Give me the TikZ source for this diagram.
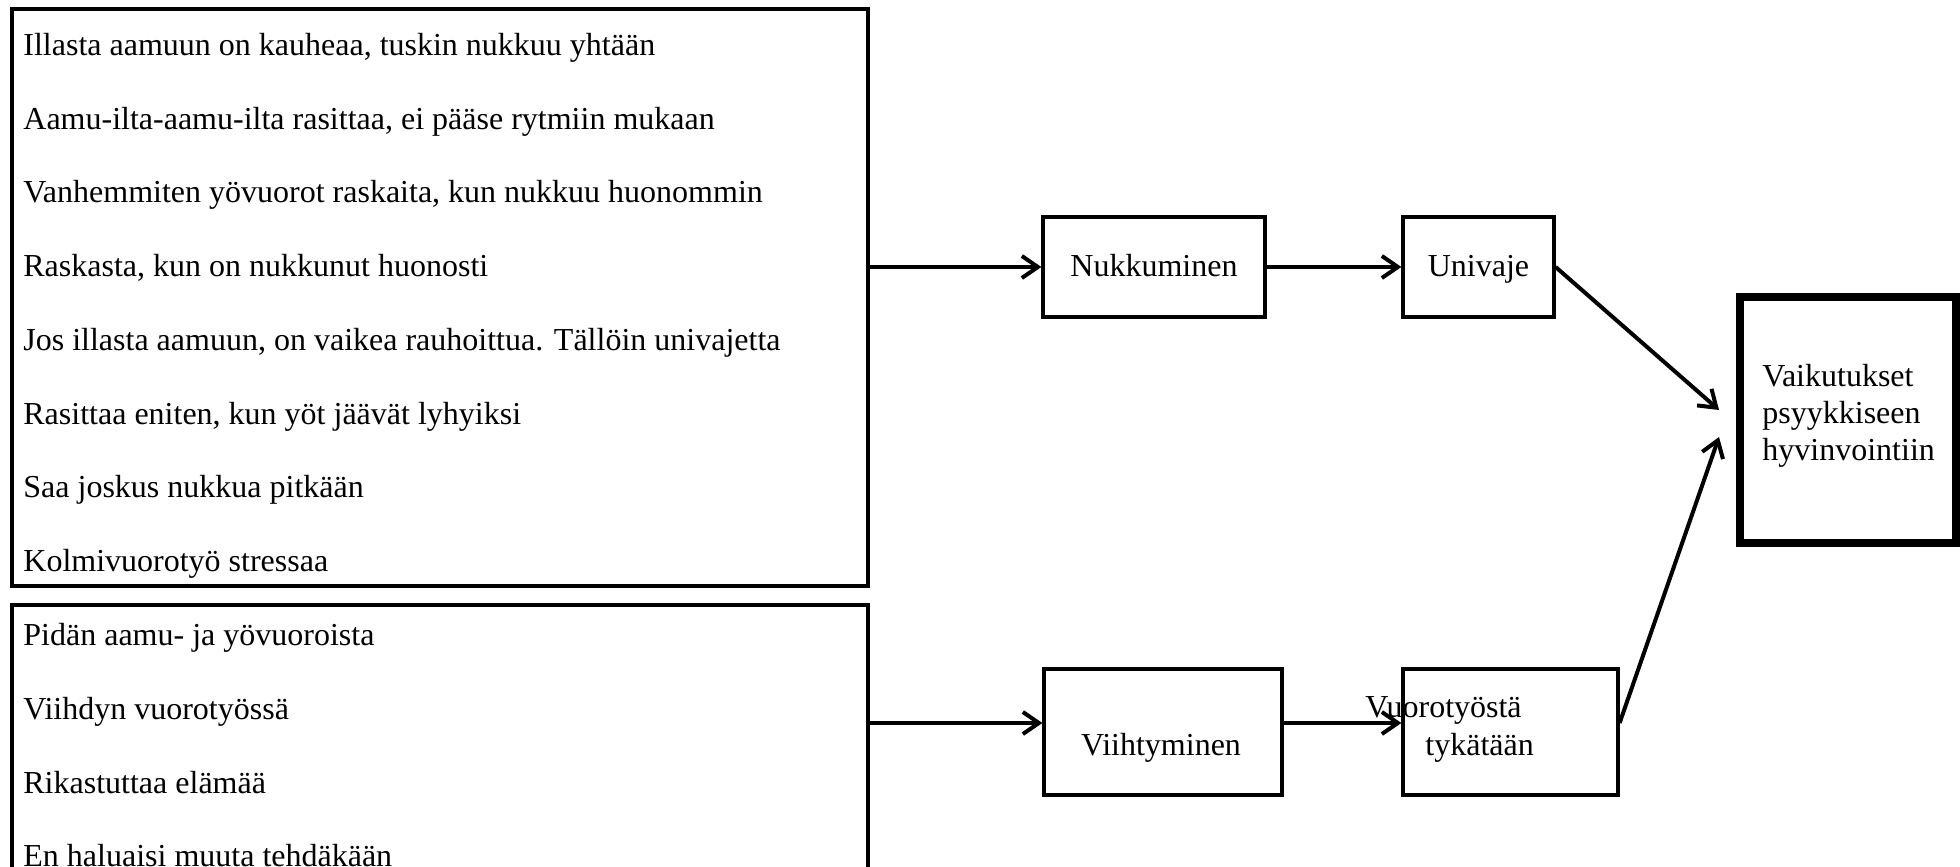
\documentclass[tikz,border=0pt]{standalone}
\usepackage{fontspec}
\setmainfont{Liberation Serif}
\usetikzlibrary{arrows.meta}
\begin{document}
\begin{tikzpicture}[x=0.5pt,y=-0.5pt,
  box/.style={draw,line width=1.6pt,rectangle,inner sep=0pt},
  txt/.style={inner sep=0pt,anchor=base west,align=left,font=\fontsize{16}{18.5}\selectfont},
  ctxt/.style={font=\fontsize{16}{19}\selectfont,text height=11pt,text depth=2pt},
  conn/.style={line width=2pt,-{Straight Barb[length=8pt,width=11pt]}}]
\useasboundingbox (0,0) rectangle (1960,867);
\clip (0,0) rectangle (1960,867);
% left boxes
\node[box,minimum width=428pt,minimum height=288.5pt] (top) at (440,297.5) {};
\node[box,minimum width=428pt,minimum height=197.5pt] (bot) at (440,802.5) {};
\node[txt] (t1) at (23,55) {Illasta aamuun on kauheaa, tuskin nukkuu yhtään};
\node[txt] (t2) at (23,129) {Aamu-ilta-aamu-ilta rasittaa, ei pääse rytmiin mukaan};
\node[txt] (t3) at (23,202) {Vanhemmiten yövuorot raskaita, kun nukkuu huonommin};
\node[txt] (t4) at (23,276) {Raskasta, kun on nukkunut huonosti};
\node[txt] (t5) at (23,350) {Jos illasta aamuun, on vaikea rauhoittua. Tällöin univajetta};
\node[txt] (t6) at (23,424) {Rasittaa eniten, kun yöt jäävät lyhyiksi};
\node[txt] (t7) at (23,497) {Saa joskus nukkua pitkään};
\node[txt] (t8) at (23,571) {Kolmivuorotyö stressaa};
\node[txt] (b1) at (23,645) {Pidän aamu- ja yövuoroista};
\node[txt] (b2) at (23,719) {Viihdyn vuorotyössä};
\node[txt] (b3) at (23,793) {Rikastuttaa elämää};
\node[txt] (b4) at (23,866) {En haluaisi muuta tehdäkään};
% middle boxes
\node[box,ctxt,minimum width=111pt,minimum height=50pt] (nuk) at (1154,267) {Nukkuminen};
\node[box,ctxt,minimum width=75.5pt,minimum height=50pt] (univ) at (1478.5,267) {Univaje};
\node[box,minimum width=119pt,minimum height=63pt] (viih) at (1163,732) {};
\node[txt,anchor=base] (viihtxt) at (1161,755) {Viihtyminen};
\node[box,minimum width=107.5pt,minimum height=63pt] (vuo) at (1510.5,732) {};
% result box
\node[box,line width=4pt,minimum width=108pt,minimum height=123pt] (vaik) at (1848,420) {};
\node[txt] (vaiktxt) at (1762,460) {Vaikutukset\\psyykkiseen\\hyvinvointiin};
% connectors
\coordinate (a1) at ([yshift=4.5pt]viih.west);
\coordinate (a2) at ([yshift=4.5pt]viih.east);
\draw[conn] (top.east |- nuk.west) -- (nuk.west);
\draw[conn] (nuk.east) -- (univ.west);
\draw[conn] (univ.east) -- ([xshift=-8.5pt,yshift=5pt]vaik.west);
\draw[conn] (bot.east |- a1) -- (a1);
\draw[conn] (a2) -- (vuo.west |- a2);
\draw[conn] ([yshift=4.5pt]vuo.east) -- ([xshift=-8.5pt,yshift=-8.5pt]vaik.west);
\node[txt,font=\fontsize{16}{19}\selectfont] (vuotxt) at (1365,755) {Vuorotyöstä\\\hspace*{30pt}tykätään};
\end{tikzpicture}
\end{document}
